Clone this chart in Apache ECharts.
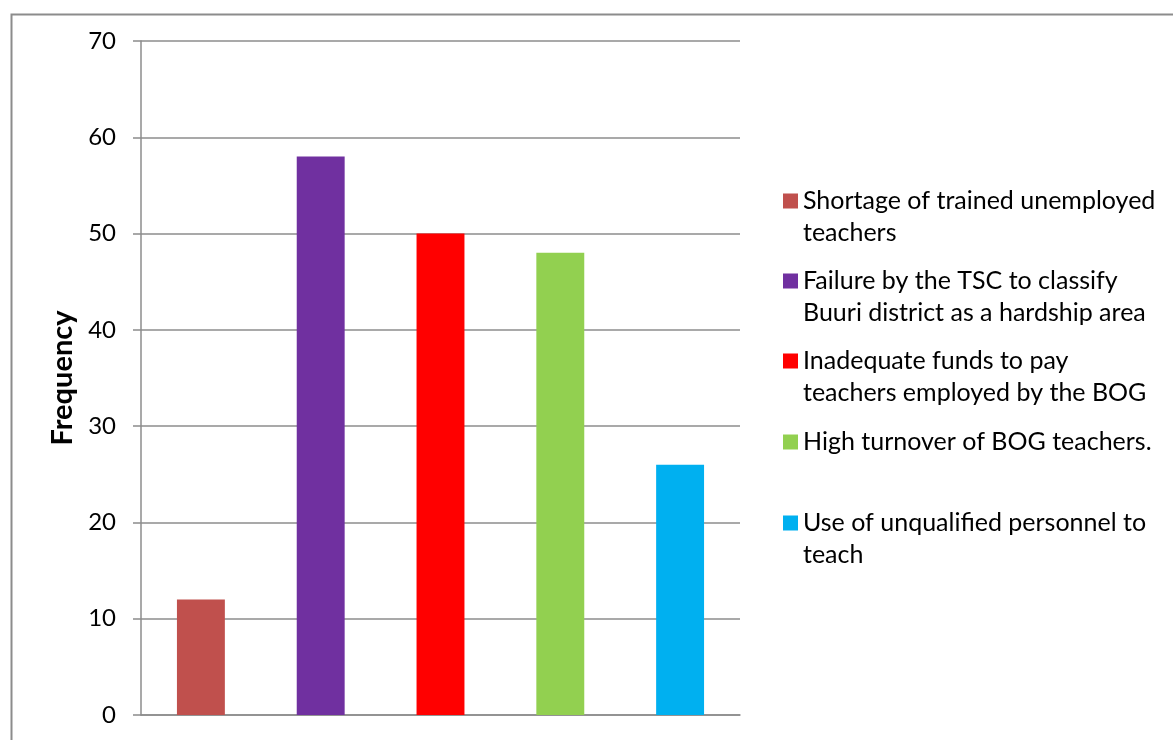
<!DOCTYPE html>
<html><head><meta charset="utf-8">
<script src="https://cdn.jsdelivr.net/npm/echarts@6/dist/echarts.min.js"></script>
<style>html,body{margin:0;padding:0;background:#fff}#c{width:1173px;height:740px}</style>
</head><body><div id="c"></div>
<script>
// ---- data ----
const categories = [
  'Shortage of trained unemployed teachers',
  'Failure by the TSC to classify Buuri district as a hardship area',
  'Inadequate funds to pay teachers employed by the BOG',
  'High turnover of BOG teachers.',
  'Use of unqualified personnel to teach'
];
const legendLabels = [
  'Shortage of trained unemployed\nteachers',
  'Failure by the TSC to classify\nBuuri district as a hardship area',
  'Inadequate funds to pay\nteachers employed by the BOG',
  'High turnover of BOG teachers.',
  'Use of unqualified personnel to\nteach'
];
const values = [12, 58, 50, 48, 26];
const yAxisName = 'Frequency';
const yMin = 0, yMax = 70, yStep = 10;

// ---- styles / layout ----
const barColors = ['#C0504D', '#7030A0', '#FF0000', '#92D050', '#00B0F0'];
const legendIconCenters = [201, 281, 361, 442, 523];
const FONT = 'Lato';
const LINE_H = 32;
const ICON = 15;
const gray = '#8c8c8c';

const chart = echarts.init(document.getElementById('c'), null, {renderer: 'canvas'});

const series = categories.map((name, i) => ({
  name: name,
  type: 'bar',
  barWidth: '40%',
  barGap: '-100%',
  itemStyle: {color: barColors[i]},
  data: categories.map((c, j) => (j === i ? values[i] : null))
}));

const legends = categories.map((name, i) => {
  const lines = legendLabels[i].split('\n').length;
  const extra = (lines - 1) * LINE_H;
  const h = ICON + extra;
  // square at the top of the icon box, so it lines up with the first text line
  const icon = lines > 1
    ? 'path://M0 0H' + ICON + 'V' + ICON + 'H0Z M0 ' + h + 'L' + ICON + ' ' + h
    : 'rect';
  return {
    data: [name],
    left: 783,
    top: legendIconCenters[i] - LINE_H / 2,
    padding: 0,
    icon: icon,
    itemWidth: ICON,
    itemHeight: h,
    selectedMode: false,
    formatter: () => legendLabels[i],
    textStyle: {fontFamily: FONT, fontSize: 25, color: '#000', lineHeight: LINE_H}
  };
});

chart.setOption({
  animation: false,
  backgroundColor: '#fff',
  graphic: [{
    type: 'rect', left: 9, top: 12,
    shape: {width: 1300, height: 900},
    style: {fill: 'none', stroke: gray, lineWidth: 2},
    silent: true
  }],
  grid: {left: 141, top: 41, right: 433, bottom: 25, containLabel: false},
  legend: legends,
  xAxis: {
    type: 'category',
    data: categories,
    axisLine: {show: true, lineStyle: {color: gray, width: 1.5}},
    axisTick: {show: false},
    axisLabel: {show: false},
    splitLine: {show: false}
  },
  yAxis: {
    type: 'value',
    min: yMin, max: yMax, interval: yStep,
    name: yAxisName,
    nameLocation: 'middle',
    nameGap: 56,
    nameRotate: 90,
    nameTextStyle: {fontFamily: FONT, fontSize: 29, fontWeight: 'bold', color: '#000'},
    axisLine: {show: true, lineStyle: {color: gray, width: 1.5}},
    axisTick: {show: true, length: 8, lineStyle: {color: gray, width: 1.5}},
    axisLabel: {fontFamily: FONT, fontSize: 24, color: '#000', margin: 25},
    splitLine: {show: true, lineStyle: {color: gray, width: 1.5}}
  },
  series: series
});
</script>
</body></html>
